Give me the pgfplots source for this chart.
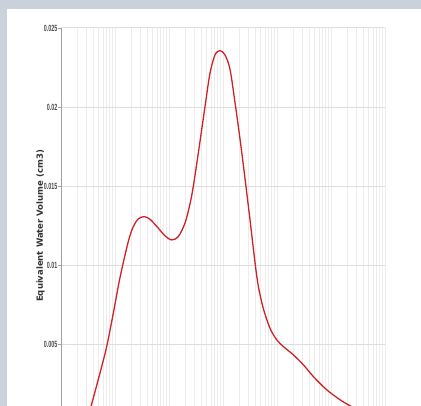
\documentclass[border=0pt]{standalone}
\usepackage{fontspec}
\usepackage{pgfplots}
\pgfplotsset{compat=1.18}
\usetikzlibrary{backgrounds,calc}
\setmainfont{Liberation Sans}
\newfontfamily\tickfont{Liberation Sans}
\newfontfamily\labfont{DejaVu Sans}
\definecolor{pagebg}{RGB}{201,209,219}
\definecolor{curve}{RGB}{206,34,38}
\definecolor{minorgrid}{RGB}{236,236,236}
\definecolor{majorgrid}{RGB}{222,222,222}
\definecolor{axisgray}{RGB}{160,160,160}
\begin{document}
\begin{tikzpicture}[x=1pt,y=1pt]
\begin{axis}[
    scale only axis,
    width=324pt,
    height=396pt,
    xmode=log,
    xmin=1e-3, xmax=1e3,
    ymin=0, ymax=0.025,
    axis x line*=bottom,
    axis y line*=left,
    axis line style={axisgray, line width=0.8pt},
    xticklabels={},
    xtick style={draw=none},
    ytick={0.005,0.01,0.015,0.02,0.025},
    scaled y ticks=false,
    yticklabel style={/pgf/number format/fixed, /pgf/number format/precision=3,
        /pgf/number format/assume math mode=true,
        font=\tickfont\fontsize{9}{9}\selectfont\bfseries, xscale=0.6, text=black!70,
        inner xsep=1pt},
    ytick style={axisgray, line width=0.6pt},
    tick align=outside,
    major tick length=3pt,
    xmajorgrids=true,
    xminorgrids=true,
    ymajorgrids=true,
    major x grid style={minorgrid, line width=0.8pt},
    minor x grid style={minorgrid, line width=0.8pt},
    major y grid style={majorgrid, line width=1pt},
    ylabel={Equivalent Water Volume (cm3)},
    ylabel style={font=\labfont\fontsize{8.5}{8.5}\selectfont\bfseries, text=black!80,
        at={(axis description cs:-0.063,0.5)}, anchor=center},
    clip=true,
]
\coordinate (sw) at (rel axis cs:0,0);
\addplot[curve, line width=1.3pt, smooth] coordinates {
  (0.00278,-0.00030) (0.00371,0.00128) (0.00527,0.00321) (0.00702,0.00489)
  (0.00931,0.00700) (0.01239,0.00925) (0.01763,0.01152)
  (0.02182,0.01246) (0.02700,0.01295) (0.03443,0.01309) (0.04446,0.01293)
  (0.06339,0.01236) (0.08433,0.01188) (0.1122,0.01162) (0.1487,0.01183)
  (0.1977,0.01268) (0.2450,0.01390) (0.2818,0.01500) (0.349,0.01710)
  (0.464,0.02003) (0.574,0.02214) (0.711,0.02330) (0.880,0.02357)
  (1.089,0.02330) (1.348,0.02240) (1.668,0.02030) (2.065,0.01800)
  (2.555,0.01550) (3.162,0.01290) (3.915,0.01020) (4.51,0.00870)
  (5.57,0.00730) (7.41,0.00605) (9.86,0.00532) (13.1,0.00489)
  (20.0,0.00437) (30.7,0.00374) (47.0,0.00300) (83.2,0.00216)
  (147,0.00153) (225,0.00115) (375,0.00077)
};
\end{axis}
\begin{pgfonlayer}{background}
  \fill[pagebg] ($(sw)+(-61,18)$) rectangle ($(sw)+(360,424)$);
  \fill[white] ($(sw)+(-54,18)$) rectangle ($(sw)+(360,415)$);
\end{pgfonlayer}
\pgfresetboundingbox
\path[use as bounding box] ($(sw)+(-61,18)$) rectangle ($(sw)+(360,424)$);
\end{tikzpicture}
\end{document}
